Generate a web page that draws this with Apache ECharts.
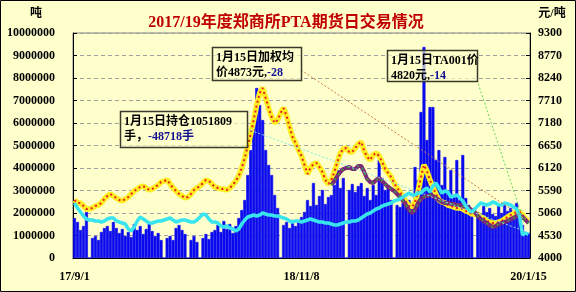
<!DOCTYPE html>
<html>
<head>
<meta charset="utf-8">
<script src="https://cdn.jsdelivr.net/npm/echarts@6/dist/echarts.min.js"></script>
<style>html,body{margin:0;padding:0;background:#FFFFCC;}#c{width:576px;height:292px;}</style>
</head>
<body>
<div id="c"></div>
<script>
// 日成交量 (吨) — left axis
const volume = [
1778000,1600000,1244000,1422000,2044000,0,889000,978000,800000,1156000,
1333000,1422000,1200000,1600000,1333000,1111000,1289000,978000,1156000,933000,
1511000,1244000,1422000,1067000,1289000,1600000,1200000,978000,1111000,800000,
0,889000,978000,800000,1333000,1467000,1244000,1067000,0,800000,
978000,711000,0,889000,1067000,844000,1156000,1244000,1467000,1156000,
1644000,1289000,1511000,1111000,1422000,1778000,2133000,2578000,3689000,4800000,
5911000,7556000,6800000,6133000,4800000,4133000,3689000,2800000,2222000,0,
1467000,1600000,1333000,1689000,1422000,1689000,1822000,2044000,2578000,2311000,
3333000,2356000,2756000,3022000,2400000,2711000,2800000,3244000,3911000,3111000,
3556000,0,3022000,3289000,2933000,3200000,3333000,2756000,3111000,2578000,
3244000,2800000,4356000,3556000,3022000,3244000,2578000,0,2356000,2267000,
2444000,2311000,2578000,2356000,4044000,3467000,6489000,9378000,5244000,6711000,
6711000,4356000,4800000,3244000,4489000,3022000,3911000,2800000,4356000,2578000,
4578000,2667000,2356000,2133000,0,2044000,1956000,2311000,2044000,2222000,
1956000,1867000,2356000,2000000,2400000,2089000,2222000,1956000,2444000,2133000,
1467000,1156000,1111000
];
// 持仓量 — left axis
const openInterest = [
2440000,2222000,2044000,1867000,1733000,1689000,1689000,1644000,1644000,1600000,
1644000,1733000,1778000,1778000,1644000,1600000,1556000,1511000,1289000,1200000,
1378000,1644000,1822000,1733000,1644000,1556000,1556000,1600000,1644000,1644000,
1689000,1733000,1778000,1689000,1600000,1644000,1689000,1689000,1644000,1600000,
1600000,1689000,1822000,1956000,1911000,1733000,1600000,1600000,1556000,1422000,
1378000,1422000,1333000,1289000,1200000,1289000,1511000,1689000,1822000,1867000,
1911000,1867000,1911000,2000000,1956000,1911000,1911000,1867000,1867000,1822000,
1778000,1733000,1644000,1600000,1644000,1644000,1600000,1644000,1689000,1733000,
1689000,1644000,1600000,1600000,1556000,1556000,1511000,1467000,1467000,1511000,
1556000,1600000,1600000,1644000,1644000,1689000,1778000,1867000,1956000,2000000,
2089000,2178000,2222000,2311000,2356000,2400000,2444000,2533000,2578000,2622000,
2711000,2800000,2889000,2800000,2800000,2889000,2889000,3022000,3111000,2933000,
3200000,3333000,3111000,2889000,2978000,2933000,2711000,2756000,2800000,2667000,
2533000,2311000,2133000,2044000,2178000,2311000,2444000,2400000,2356000,2400000,
2489000,2444000,2356000,2356000,2444000,2400000,2356000,2267000,2178000,1867000,
1022000,1111000,1051809
];
// 加权均价 (元/吨) — right axis
const avgPrice = [
5366,5296,5296,5225,5154,5154,5178,5225,5248,5296,
5390,5460,5508,5460,5413,5366,5343,5390,5437,5508,
5578,5625,5672,5696,5649,5602,5625,5672,5720,5790,
5814,5837,5743,5649,5578,5508,5460,5413,5437,5508,
5602,5649,5696,5767,5837,5814,5743,5672,5649,5625,
5625,5602,5649,5720,5814,5932,6120,6356,6638,6921,
7251,7604,7887,8005,7769,7533,7321,7180,7251,7416,
7533,7345,7086,6850,6709,6544,6403,6191,5979,6120,
6214,6238,6144,6026,5837,5743,5837,6026,6261,6473,
6568,6591,6497,6497,6591,6685,6733,6520,6379,6308,
6426,6473,6403,6261,6096,6002,5908,5767,5649,5555,
5437,5319,5225,5201,5319,5555,5908,6191,6049,5837,
5672,5508,5366,5319,5296,5248,5225,5201,5178,5178,
5154,5107,5084,5036,5036,5013,4966,4942,4872,4848,
4824,4824,4848,4872,4919,4966,5013,5036,5084,5084,
5013,4919,4873
];
// TA001 价格 (元/吨) — right axis, starts at index ta001Start
const ta001Start = 86;
const ta001 = [
5720,5814,5932,6026,6096,6120,6144,6096,6096,6167,
6167,6026,5861,5790,5767,5837,5884,5814,5743,5672,
5625,5578,5508,5437,5343,5248,5131,5060,5131,5296,
5390,5437,5460,5484,5460,5413,5366,5319,5296,5296,
5272,5272,5248,5248,5225,5201,5178,5131,5084,4989,
4919,4872,4824,4777,4730,4754,4801,4824,4848,4872,
4919,4942,4989,5013,4966,4895,4820
];
const xTickLabels = ['17/9/1', '18/11/8', '20/1/15'];
const xTickIndex = [0, 76, 152];
const rightTicks = ['4000','4530','5060','5590','6120','6650','7180','7710','8240','8770','9300'];

const categories = volume.map((_, i) => {
  const k = xTickIndex.indexOf(i);
  return k >= 0 ? xTickLabels[k] : '';
});
const ta001Data = volume.map((_, i) => (i >= ta001Start ? ta001[i - ta001Start] : null));

const FONT = '"Liberation Serif", "Noto Sans CJK SC", serif';
const lab = { fontFamily: FONT, fontWeight: 'bold', fontSize: 12, color: '#000' };

function box(x, y, w, h, l1, l2a, l2b) {
  return [
    { type: 'rect', z: 100, shape: { x: x + 0.5, y: y + 0.5, width: w, height: h },
      style: { fill: 'rgba(255,255,204,0.65)', stroke: '#3a3a2a', lineWidth: 1.5 } },
    { type: 'text', z: 101, x: x + 4, y: y + 3,
      style: {
        text: '{a|' + l1 + '}\n{a|' + l2a + '}{b|' + l2b + '}',
        rich: {
          a: { fontFamily: FONT, fontWeight: 'bold', fontSize: 12, fill: '#000', lineHeight: 15 },
          b: { fontFamily: FONT, fontWeight: 'bold', fontSize: 12, fill: '#101090', lineHeight: 15 }
        }
      } }
  ];
}

const chart = echarts.init(document.getElementById('c'), null, { renderer: 'canvas' });
chart.setOption({
  backgroundColor: '#FFFFCC',
  animation: false,
  grid: { left: 73, right: 46, top: 33, bottom: 34, show: true, borderColor: '#808080', borderWidth: 1 },
  xAxis: {
    type: 'category', data: categories, boundaryGap: true,
    axisLine: { lineStyle: { color: '#000', width: 1 } },
    axisTick: { show: false },
    axisLabel: Object.assign({ interval: 0, margin: 13 }, lab),
    splitLine: { show: false }
  },
  yAxis: [
    { type: 'value', min: 0, max: 10000000, interval: 1000000, position: 'left',
      axisLine: { show: true, lineStyle: { color: '#000' } },
      axisTick: { show: true, inside: true, length: 4, lineStyle: { color: '#000' } },
      axisLabel: Object.assign({ margin: 18, formatter: v => String(v) }, lab),
      splitLine: { show: true, lineStyle: { color: '#a0a0a0', type: [4, 3] } } },
    { type: 'value', min: 4000, max: 9300, show: false, splitLine: { show: false } },
    { type: 'value', min: 0, max: 10, interval: 1, position: 'right',
      axisLine: { show: true, lineStyle: { color: '#000' } },
      axisTick: { show: true, inside: true, length: 4, lineStyle: { color: '#000' } },
      axisLabel: Object.assign({ margin: 8, formatter: v => rightTicks[v] }, lab),
      splitLine: { show: false } }
  ],
  series: [
    { type: 'bar', name: '成交量', data: volume, yAxisIndex: 0, barWidth: '100%',
      itemStyle: { color: '#0a0af0', borderColor: '#0a0af0', borderWidth: 0.6 }, z: 2 },
    { type: 'line', name: '加权均价', data: avgPrice, yAxisIndex: 1, showSymbol: false,
      lineStyle: { color: '#ffee22', width: 5.5 }, z: 3 },
    { type: 'line', name: '加权均价点', data: avgPrice, yAxisIndex: 1, showSymbol: false,
      lineStyle: { color: '#e82020', width: 2, type: [2, 3] }, z: 4 },
    { type: 'line', name: 'TA001', data: ta001Data, yAxisIndex: 1, showSymbol: false,
      lineStyle: { color: '#7a2a78', width: 4 }, z: 5 },
    { type: 'line', name: 'TA001点', data: ta001Data, yAxisIndex: 1, showSymbol: false,
      lineStyle: { color: '#30b030', width: 1.5, type: [2, 4] }, z: 6 },
    { type: 'line', name: '持仓', data: openInterest, yAxisIndex: 0, showSymbol: false,
      lineStyle: { color: '#38e4ee', width: 3.5 }, z: 7 }
  ],
  graphic: [
    { type: 'text', z: 100, x: 286, y: 23,
      style: { text: '2017/19年度郑商所PTA期货日交易情况', fontFamily: FONT, fontWeight: 'bold',
        fontSize: 16, fill: '#c00000', align: 'center', verticalAlign: 'middle' } },
    { type: 'text', z: 100, x: 36, y: 14,
      style: { text: '吨', fontFamily: FONT, fontWeight: 'bold', fontSize: 12, fill: '#000',
        align: 'center', verticalAlign: 'middle' } },
    { type: 'text', z: 100, x: 552, y: 14,
      style: { text: '元/吨', fontFamily: FONT, fontWeight: 'bold', fontSize: 12, fill: '#000',
        align: 'center', verticalAlign: 'middle' } },
    { type: 'line', z: 90, shape: { x1: 247, y1: 129, x2: 527, y2: 232 },
      style: { stroke: '#80eaea', lineWidth: 1, lineDash: [2, 2] } },
    { type: 'line', z: 90, shape: { x1: 301, y1: 70, x2: 526, y2: 219 },
      style: { stroke: '#d07850', lineWidth: 1, lineDash: [2, 2] } },
    { type: 'line', z: 90, shape: { x1: 477, y1: 80, x2: 524, y2: 222 },
      style: { stroke: '#60d860', lineWidth: 1, lineDash: [2, 2] } }
  ]
  .concat(box(120, 111, 127, 36, '1月15日持仓1051809', '手，', '-48718手'))
  .concat(box(212, 47, 89, 33, '1月15日加权均', '价4873元,', '-28'))
  .concat(box(387, 50, 90, 31, '1月15日TA001价', '4820元,', '-14'))
  .concat([
    { type: 'rect', z: 200, shape: { x: 0.5, y: 0.5, width: 575, height: 291 },
      style: { fill: 'none', stroke: '#000', lineWidth: 1 } }
  ])
});
</script>
</body>
</html>
